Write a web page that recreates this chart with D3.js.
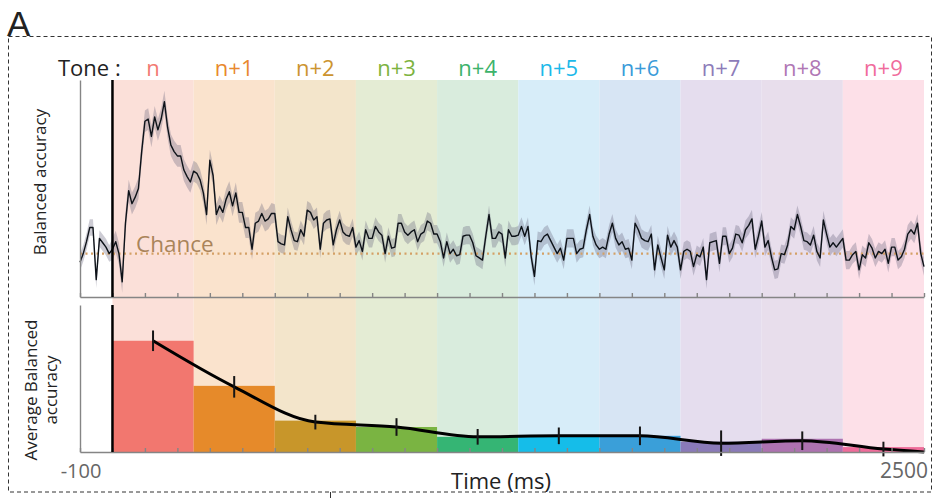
<!DOCTYPE html>
<html><head><meta charset="utf-8">
<script src="https://cdn.jsdelivr.net/npm/d3@7"></script>
<style>html,body{margin:0;padding:0;background:#fff;}svg{display:block;font-family:"Open Sans",sans-serif;}</style>
</head><body>
<script>
// ---------- DATA ----------
const toneLabels = ["n","n+1","n+2","n+3","n+4","n+5","n+6","n+7","n+8","n+9"];
const toneStarts = [0,250,500,750,1000,1250,1500,1750,2000,2250]; // ms
const toneDuration = 250;
const labelColors = ["#f27a72","#e8892e","#cc9430","#7db33f","#3db36b","#1cb9e9","#3a9bd9","#8d7cb9","#b077b5","#f06b9c"];
const barColors   = ["#f2776f","#e68a2a","#c8962a","#7ab442","#35b574","#15bde9","#3a9fd9","#8a7ab8","#ad72b0","#ef6c9a"];
const bandColors  = ["#fbe0d9","#fae3cd","#f3e5cb","#e4ecd4","#d9ecdd","#d7edf9","#d7e5f4","#e5ddee","#e8deec","#fde0e8"];

// balanced accuracy (%) sampled every 10 ms from -100 to 2500 ms
const sampleStart = -100, sampleStep = 10;
const accuracy = [
 49.6,50.0,50.55,51.2,51.2,48.8,50.7,50.5,50.3,50.0,
 50.2,50.55,50.0,48.7,51.4,52.9,52.3,52.6,53.0,54.7,
 56.1,56.2,55.4,56.3,55.7,56.2,57.0,55.8,55.0,54.7,
 54.5,54.5,53.85,53.55,53.3,53.8,53.7,53.4,52.8,51.8,
 54.3,53.6,51.8,52.2,51.9,52.5,52.85,52.2,52.8,51.9,
 51.9,51.2,51.2,50.2,51.4,51.5,51.85,51.5,51.6,51.85,
 51.85,50.55,50.45,50.4,51.7,51.1,50.6,50.55,51.1,50.8,
 52.0,51.9,51.55,51.7,50.2,51.4,51.55,51.6,50.4,51.1,
 51.55,51.0,50.85,50.8,51.2,50.3,50.6,50.1,51.1,50.7,
 50.7,51.25,51.0,50.85,50.0,50.8,50.25,50.3,51.4,51.4,
 51.0,50.85,51.0,51.1,50.55,50.9,51.0,51.5,51.4,50.9,
 50.9,50.55,49.8,50.55,50.0,50.2,49.9,49.95,50.8,50.85,
 50.85,50.5,49.9,49.8,49.7,50.8,51.8,50.7,50.7,51.0,
 50.9,49.8,51.1,50.8,50.8,50.85,51.25,50.8,51.25,49.85,
 48.95,50.6,50.55,50.8,50.9,50.6,50.3,50.0,50.25,49.7,
 50.7,50.7,50.7,50.0,50.2,50.25,51.1,51.8,50.8,50.4,
 50.2,50.3,50.2,50.9,51.4,50.7,50.4,50.55,50.2,50.25,
 49.7,51.4,51.1,50.7,50.6,50.55,50.9,49.25,50.4,49.8,
 49.25,50.85,50.3,50.6,50.3,49.25,50.1,50.2,50.1,49.4,
 49.95,49.85,50.3,48.8,50.5,50.55,50.6,49.55,50.8,50.8,
 50.0,50.25,50.9,50.85,50.5,51.1,51.3,51.6,50.2,50.8,
 51.5,50.3,50.6,49.85,49.25,49.3,50.0,49.95,50.4,51.25,
 51.1,51.8,51.25,50.6,50.55,50.4,50.85,50.1,49.8,51.55,
 50.9,50.3,50.5,50.3,50.5,50.7,49.7,49.7,49.95,50.1,
 49.25,49.95,49.8,50.5,50.25,49.8,50.1,50.0,50.2,49.55,
 50.3,50.3,49.7,49.85,50.2,50.9,51.1,50.9,51.4,50.0,
 49.4
];
// standard error per segment: baseline, then each tone window
const semBySegment = [0.38,0.5,0.48,0.42,0.42,0.42,0.42,0.42,0.42,0.42];
const chanceLevel = 50;

// average balanced accuracy per tone window (%)
const avgBars = [52.27,51.35,50.64,50.51,50.31,50.33,50.33,50.21,50.27,50.10];
const avgMeans = [52.27,51.33,50.61,50.51,50.31,50.33,50.33,50.18,50.23,50.06];
const avgSem = [0.21,0.22,0.15,0.18,0.16,0.17,0.19,0.26,0.19,0.15];
const avgEnd = {t:2500, v:50.0};

const xTickValues = d3.range(-100, 2501, 100);
const xLabelLeft = "-100", xLabelRight = "2500";

// ---------- CHART ----------
const W = 934, H = 498;
const svg = d3.select("body").append("svg").attr("width", W).attr("height", H);

const x = d3.scaleLinear().domain([-100, 2500]).range([80, 924]);
const yTop = d3.scaleLinear().domain([48, 58]).range([297, 80]);
const yBot = d3.scaleLinear().domain([50, 53]).range([452, 305]);

// dashed frame
svg.append("rect").attr("x", 8.5).attr("y", 36.5).attr("width", 923).attr("height", 455.5)
  .attr("fill", "none").attr("stroke", "#333").attr("stroke-width", 1).attr("stroke-dasharray", "4,3");
svg.append("line").attr("x1", 330.5).attr("x2", 330.5).attr("y1", 492).attr("y2", 498).attr("stroke", "#333");
svg.append("text").attr("x", 7).attr("y", 36).attr("font-size", 35)
  .attr("font-family", "'Liberation Sans', Arial, sans-serif").attr("fill", "#222").text("A");

// background bands
svg.append("g").selectAll("rect").data(toneStarts).join("rect")
  .attr("x", d => x(d)).attr("width", d => x(d + toneDuration) - x(d))
  .attr("y", 80).attr("height", 452 - 80)
  .attr("fill", (d, i) => bandColors[i]);

// tone labels
svg.append("text").attr("x", 58).attr("y", 76).attr("font-size", 22).attr("fill", "#222").text("Tone :");
svg.append("g").selectAll("text").data(toneLabels).join("text")
  .attr("x", (d, i) => x(toneStarts[i] + toneDuration / 2)).attr("y", 76)
  .attr("text-anchor", "middle").attr("font-size", 22)
  .attr("fill", (d, i) => labelColors[i]).text(d => d);

// ---------- top panel ----------
const series = accuracy.map((v, i) => {
  const t = sampleStart + i * sampleStep;
  const seg = Math.min(semBySegment.length - 1, t < 0 ? 0 : 1 + Math.floor(t / toneDuration));
  return {t, v, s: semBySegment[seg]};
});

svg.append("path").datum(series)
  .attr("d", d3.area().x(d => x(d.t)).y0(d => yTop(d.v - d.s)).y1(d => yTop(d.v + d.s)))
  .attr("fill", "rgba(100,95,122,0.32)");

svg.append("line").attr("x1", x(-100)).attr("x2", x(2500))
  .attr("y1", yTop(chanceLevel)).attr("y2", yTop(chanceLevel))
  .attr("stroke", "#d4a065").attr("stroke-width", 2.2).attr("stroke-dasharray", "2,3.5");
svg.append("text").attr("x", 136).attr("y", 251.5).attr("font-size", 22.5)
  .attr("fill", "#a9845a").text("Chance");

svg.append("path").datum(series)
  .attr("d", d3.line().x(d => x(d.t)).y(d => yTop(d.v)))
  .attr("fill", "none").attr("stroke", "#0d1218").attr("stroke-width", 1.4).attr("stroke-linejoin", "round");

// top axes
const axisStyle = g => {
  g.selectAll("path,line").attr("stroke", "#858585").attr("stroke-width", 1.4);
  g.selectAll("text").remove();
};
svg.append("g").attr("transform", "translate(0,297)")
  .call(d3.axisBottom(x).tickValues(xTickValues).tickSizeInner(-4).tickSizeOuter(0).tickFormat(""))
  .call(axisStyle);
svg.append("g").attr("transform", "translate(80,0)")
  .call(d3.axisLeft(yTop).tickValues([]).tickSizeOuter(0)).call(axisStyle);
svg.append("line").attr("x1", x(0)).attr("x2", x(0)).attr("y1", 80).attr("y2", 297)
  .attr("stroke", "#000").attr("stroke-width", 2.5);

// ---------- bottom panel ----------
svg.append("g").selectAll("rect").data(avgBars).join("rect")
  .attr("x", (d, i) => x(toneStarts[i])).attr("width", (d, i) => x(toneStarts[i] + toneDuration) - x(toneStarts[i]))
  .attr("y", d => yBot(d)).attr("height", d => yBot(50) - yBot(d))
  .attr("fill", (d, i) => barColors[i]);

const avgPts = avgMeans.map((v, i) => ({t: toneStarts[i] + toneDuration / 2, v}));
svg.append("path").datum(avgPts.concat([avgEnd]))
  .attr("d", d3.line().x(d => x(d.t)).y(d => yBot(d.v)).curve(d3.curveMonotoneX))
  .attr("fill", "none").attr("stroke", "#000").attr("stroke-width", 3);

svg.append("g").selectAll("line").data(avgPts).join("line")
  .attr("x1", d => x(d.t)).attr("x2", d => x(d.t))
  .attr("y1", (d, i) => yBot(d.v - avgSem[i])).attr("y2", (d, i) => yBot(d.v + avgSem[i]))
  .attr("stroke", "#151515").attr("stroke-width", 2);

svg.append("g").attr("transform", "translate(0,452)")
  .call(d3.axisBottom(x).tickValues(xTickValues).tickSizeInner(-4).tickSizeOuter(0).tickFormat(""))
  .call(axisStyle);
svg.append("g").attr("transform", "translate(80,0)")
  .call(d3.axisLeft(yBot).tickValues([]).tickSizeOuter(0)).call(axisStyle);
svg.append("line").attr("x1", x(0)).attr("x2", x(0)).attr("y1", 305).attr("y2", 452)
  .attr("stroke", "#000").attr("stroke-width", 2.5);

// axis labels
svg.append("text").attr("x", x(-100) + 1).attr("y", 477.5).attr("text-anchor", "middle")
  .attr("font-size", 20).attr("fill", "#666").text(xLabelLeft);
svg.append("text").attr("x", 928).attr("y", 477.5).attr("text-anchor", "end")
  .attr("font-size", 21).attr("fill", "#666").text(xLabelRight);
svg.append("text").attr("x", 501).attr("y", 489).attr("text-anchor", "middle")
  .attr("font-size", 22).attr("fill", "#222").text("Time (ms)");

svg.append("text").attr("transform", "translate(46,182) rotate(-90)").attr("text-anchor", "middle")
  .attr("font-size", 17).attr("fill", "#222").text("Balanced accuracy");
svg.append("text").attr("transform", "translate(37,390) rotate(-90)").attr("text-anchor", "middle")
  .attr("font-size", 17).attr("fill", "#222").text("Average Balanced");
svg.append("text").attr("transform", "translate(57,390) rotate(-90)").attr("text-anchor", "middle")
  .attr("font-size", 17).attr("fill", "#222").text("accuracy");
</script>
</body></html>
